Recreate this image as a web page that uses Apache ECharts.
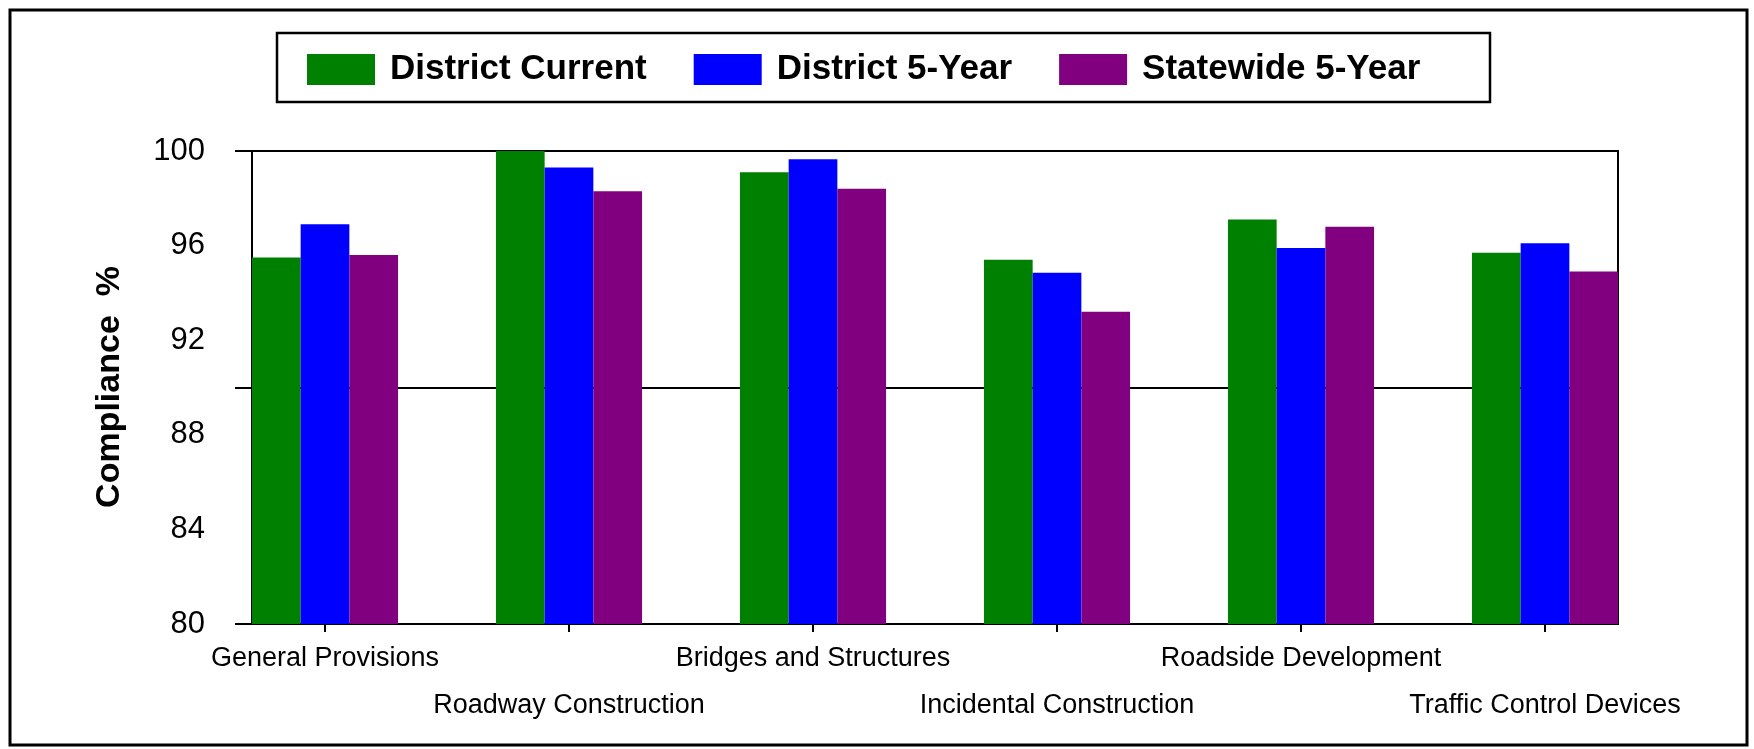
<!DOCTYPE html>
<html>
<head>
<meta charset="utf-8">
<script src="https://cdn.jsdelivr.net/npm/echarts@6/dist/echarts.min.js"></script>
<style>
html,body{margin:0;padding:0;background:#fff;}
#chart{width:1754px;height:749px;}
</style>
</head>
<body>
<div id="chart"></div>
<script>
const categories = ['General Provisions','Roadway Construction','Bridges and Structures','Incidental Construction','Roadside Development','Traffic Control Devices'];
const seriesNames = ['District Current','District 5-Year','Statewide 5-Year'];
const districtCurrent = [95.5, 100.0, 99.1, 95.4, 97.1, 95.7];
const district5Year = [96.9, 99.3, 99.65, 94.85, 95.9, 96.1];
const statewide5Year = [95.6, 98.3, 98.4, 93.2, 96.8, 94.9];
const yTickLabels = [80, 84, 88, 92, 96, 100];
const yMajorTicks = [80, 90, 100];
const yTitle = 'Compliance  %';

const colors = ['#008000', '#0000ff', '#800080'];
const seriesData = [districtCurrent, district5Year, statewide5Year];

const chart = echarts.init(document.getElementById('chart'));
const option = {
  backgroundColor: '#ffffff',
  animation: false,
  graphic: [
    {type:'rect', shape:{x:10, y:10, width:1737, height:735}, style:{fill:'none', stroke:'#000', lineWidth:3}, z:100},
    {type:'rect', shape:{x:277, y:33, width:1213, height:69}, style:{fill:'none', stroke:'#000', lineWidth:2.5}, z:100},
    {type:'text', x:110, y:387, rotation:Math.PI/2,
     style:{text:yTitle, textAlign:'center', textVerticalAlign:'middle', font:'bold 34px "Liberation Sans", Arial, sans-serif', fill:'#000'}}
  ],
  legend: {
    data: seriesNames,
    left: 302, top: 47,
    orient: 'horizontal',
    itemWidth: 68, itemHeight: 31, itemGap: 47,
    icon: 'rect',
    selectedMode: false,
    textStyle: {fontFamily:'"Liberation Sans", Arial, sans-serif', fontWeight:'bold', fontSize:35, color:'#000', lineHeight:31, padding:[0,0,0,10]}
  },
  grid: [
    {left:252, right:136, top:151, bottom:125, show:true, borderColor:'#000', borderWidth:2, backgroundColor:'transparent'},
    {left:203, right:87, top:151, bottom:125}
  ],
  xAxis: [
    {type:'value', gridIndex:0, show:false, min:0, max:1},
    {type:'category', gridIndex:1, data:categories, boundaryGap:true,
     axisLine:{show:false},
     axisTick:{show:true, alignWithLabel:true, length:8, lineStyle:{color:'#000', width:2}},
     axisLabel:{interval:0, margin:11.5, fontSize:27, lineHeight:47, color:'#000', fontFamily:'"Liberation Sans", Arial, sans-serif',
       formatter:function(v, i){ return i % 2 ? '\n' + v : v; }}
    }
  ],
  yAxis: [
    {type:'value', gridIndex:0, min:80, max:100, interval:4, position:'left',
     axisLine:{show:true, lineStyle:{color:'#000', width:2}},
     axisTick:{show:false},
     splitLine:{show:false},
     axisLabel:{margin:47, fontSize:31, color:'#000', fontFamily:'"Liberation Sans", Arial, sans-serif',
       showMinLabel:true, showMaxLabel:true,
       formatter:function(v){ return yTickLabels.indexOf(v) >= 0 ? String(v) : ''; }}
    },
    {type:'value', gridIndex:0, min:80, max:100, interval:10, position:'left',
     axisLine:{show:false},
     axisTick:{show:true, length:17, customValues:yMajorTicks, lineStyle:{color:'#000', width:2}},
     axisLabel:{show:false},
     splitLine:{show:true, showMinLine:true, showMaxLine:true, lineStyle:{color:'#000', width:2}}
    },
    {type:'value', gridIndex:1, min:80, max:100, show:false, splitLine:{show:false}}
  ],
  series: seriesNames.map(function(name, k){
    return {
      name: name, type:'bar', xAxisIndex:1, yAxisIndex:2,
      data: seriesData[k], barWidth:48.7, barGap:'0%',
      itemStyle:{color:colors[k]}
    };
  })
};
chart.setOption(option);
</script>
</body>
</html>
